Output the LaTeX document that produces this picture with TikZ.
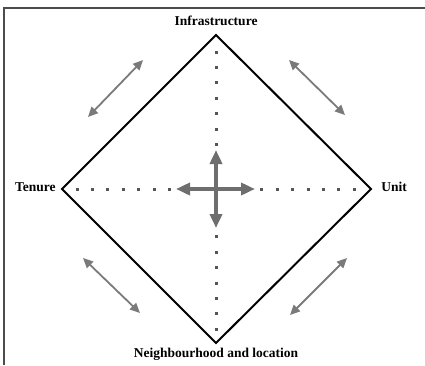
\documentclass[tikz,border=0pt]{standalone}
\usepackage{fontspec}
\setmainfont{Liberation Serif}
\usetikzlibrary{arrows.meta}
\definecolor{arrgray}{HTML}{7A7A7A}
\definecolor{dotgray}{HTML}{555555}
\tikzset{
  lbl/.style={font=\fontsize{13.5}{16}\selectfont\bfseries,inner sep=0pt},
  dotline/.style={dotgray,line width=3pt,dash pattern=on 3pt off 12.4pt},
  twoway/.style={arrgray,line width=1.8pt,{Triangle[length=10pt,width=9pt]}-{Triangle[length=10pt,width=9pt]}},
  cross/.style={arrgray!90!black,line width=3.5pt,-{Triangle[length=14pt,width=12pt]}}
}
\begin{document}
\begin{tikzpicture}[x=1pt,y=-1pt,semithick]
\useasboundingbox (0,0) rectangle (425,365);
% frame
\draw[line width=1.6pt,gray!60!black] (425,8) -- (4,8) -- (4,365);
% vertices
\coordinate (T) at (216,35);
\coordinate (R) at (371,189);
\coordinate (B) at (216,343);
\coordinate (L) at (62,189);
\coordinate (O) at (216,189);
% dotted axes
\coordinate (v1) at (216,50.5); \coordinate (v2) at (216,330.7);
\coordinate (h1) at (75.5,189); \coordinate (h2) at (355.7,189);
\draw[dotline] (v1) -- (v2);
\draw[dotline] (h1) -- (h2);
% diamond
\draw[line width=2pt,line join=miter] (T) -- (R) -- (B) -- (L) -- cycle;
% labels
\node[lbl] (infra) at (216,21) {Infrastructure};
\node[lbl,anchor=east] (tenure) at (56,187) {Tenure};
\node[lbl,anchor=west] (unit) at (381,187) {Unit};
\node[lbl] (nbh) at (216,354) {Neighbourhood and location};
% cross in the middle
\coordinate (cu) at (216,150); \coordinate (cd) at (216,228);
\coordinate (cl) at (176,189); \coordinate (cr) at (255,189);
\draw[cross] (O) -- (cu);
\draw[cross] (O) -- (cd);
\draw[cross] (O) -- (cl);
\draw[cross] (O) -- (cr);
% diagonal two-way arrows
\coordinate (a1) at (88,117); \coordinate (a2) at (143,60);
\coordinate (b1) at (289,60); \coordinate (b2) at (345,115);
\coordinate (c1) at (83,258); \coordinate (c2) at (140,313);
\coordinate (d1) at (347,258); \coordinate (d2) at (290,315);
\draw[twoway] (a1) -- (a2);
\draw[twoway] (b1) -- (b2);
\draw[twoway] (c1) -- (c2);
\draw[twoway] (d1) -- (d2);
\end{tikzpicture}
\end{document}
